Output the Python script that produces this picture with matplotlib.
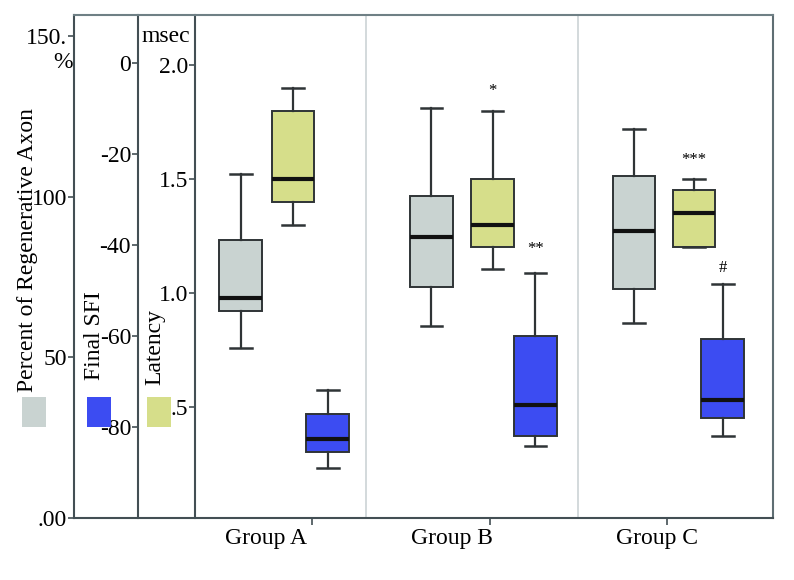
import matplotlib
matplotlib.use('Agg')
import matplotlib.pyplot as plt
from matplotlib.lines import Line2D
from matplotlib.patches import Rectangle

plt.rcParams['font.family'] = ['Liberation Serif', 'DejaVu Serif']

# data
groups = ['Group A', 'Group B', 'Group C']

axon_whislo = [53.0, 59.8, 60.7]
axon_q1 = [64.5, 72.0, 71.3]
axon_med = [68.5, 87.5, 89.4]
axon_q3 = [86.6, 100.3, 106.5]
axon_whishi = [107.0, 127.7, 120.9]

sfi_whislo = [-89.0, -84.2, -82.0]
sfi_q1 = [-85.5, -82.0, -78.0]
sfi_med = [-82.6, -75.2, -74.1]
sfi_q3 = [-77.1, -60.0, -60.7]
sfi_whishi = [-71.9, -46.2, -48.6]

lat_whislo = [1.30, 1.105, 1.20]
lat_q1 = [1.40, 1.20, 1.20]
lat_med = [1.50, 1.30, 1.35]
lat_q3 = [1.80, 1.50, 1.45]
lat_whishi = [1.90, 1.80, 1.50]

axon_ticks = [0, 50, 100, 150]
axon_ticklabels = ['.00', '50', '100', '150.']
sfi_ticks = [0, -20, -40, -60, -80]
sfi_ticklabels = ['0', '-20', '-40', '-60', '-80']
lat_ticks = [0.5, 1.0, 1.5, 2.0]
lat_ticklabels = ['.5', '1.0', '1.5', '2.0']

# layout (x in group units, tick of each group at 1, 2, 3)
group_x = [1, 2, 3]
label_x = [0.741, 1.786, 2.944]
axon_pos = [0.600, 1.673, 2.814]
lat_pos = [0.893, 2.017, 3.152]
sfi_pos = [1.090, 2.259, 3.315]
dividers = [1.304, 2.499]
box_w = 0.242

c_axon = '#c9d3d1'
c_sfi = '#3c4cf2'
c_lat = '#d6de8a'
c_line = '#2f3436'
c_spine = '#434f54'

W, H = 794, 580
fig = plt.figure(figsize=(W / 100, H / 100), dpi=100)


def fx(px):
    return px / W


def fy(py):
    return 1 - py / H


left, right, top, bottom = 195, 773, 15, 518
ax_lat = fig.add_axes([fx(left), fy(bottom), (right - left) / W, (bottom - top) / H])
ax_sfi = ax_lat.twinx()
ax_pct = ax_lat.twinx()


def stats(lo, q1, med, q3, hi):
    return [dict(whislo=a, q1=b, med=c, q3=d, whishi=e, fliers=[])
            for a, b, c, d, e in zip(lo, q1, med, q3, hi)]


def draw(ax, st, pos, color):
    ax.bxp(st, positions=pos, widths=box_w, patch_artist=True, showfliers=False,
           manage_ticks=False,
           boxprops=dict(facecolor=color, edgecolor=c_line, linewidth=1.4),
           medianprops=dict(color='#111111', linewidth=3),
           whiskerprops=dict(color=c_line, linewidth=1.6),
           capprops=dict(color=c_line, linewidth=1.8))


draw(ax_pct, stats(axon_whislo, axon_q1, axon_med, axon_q3, axon_whishi), axon_pos, c_axon)
draw(ax_lat, stats(lat_whislo, lat_q1, lat_med, lat_q3, lat_whishi), lat_pos, c_lat)
draw(ax_sfi, stats(sfi_whislo, sfi_q1, sfi_med, sfi_q3, sfi_whishi), sfi_pos, c_sfi)

xlim = (0.341, 3.597)
for ax in (ax_lat, ax_sfi, ax_pct):
    ax.set_xlim(*xlim)

ax_lat.set_ylim(0.013, 2.219)
ax_sfi.set_ylim(-100.0, 10.5)
ax_pct.set_ylim(0.0, 156.5)

for d in dividers:
    ax_lat.axvline(d, color='#ccd3d6', linewidth=1.2, zorder=0)

# y axes, all on the left
ax_lat.set_yticks(lat_ticks)
ax_lat.set_yticklabels(lat_ticklabels)
for ax, pos, ticks, labels in ((ax_sfi, -57 / 578, sfi_ticks, sfi_ticklabels),
                               (ax_pct, -121 / 578, axon_ticks, axon_ticklabels)):
    ax.yaxis.tick_left()
    ax.spines['left'].set_visible(True)
    ax.spines['left'].set_position(('axes', pos))
    ax.spines['right'].set_visible(False)
    ax.spines['top'].set_visible(False)
    ax.spines['bottom'].set_visible(False)
    ax.set_yticks(ticks)
    ax.set_yticklabels(labels)

for ax in (ax_lat, ax_sfi, ax_pct):
    ax.tick_params(axis='y', length=4, width=1.2, color=c_spine, labelsize=17, pad=1)
    ax.spines['left'].set_color(c_spine)
    ax.spines['left'].set_linewidth(1.5)

ax_lat.spines['top'].set_visible(False)
ax_lat.spines['bottom'].set_visible(False)
ax_lat.spines['right'].set_color('#5f6e73')
ax_lat.spines['right'].set_linewidth(1.5)

# outer frame lines running across all axes
fig.add_artist(Line2D([fx(74), fx(right)], [fy(top), fy(top)], color='#6f8085', linewidth=1.5))
fig.add_artist(Line2D([fx(74), fx(right)], [fy(bottom), fy(bottom)], color=c_spine, linewidth=1.5))

ax_lat.set_xticks(group_x)
ax_lat.set_xticklabels([])
ax_lat.tick_params(axis='x', length=5, width=1.2, color=c_spine)
for x, g in zip(label_x, groups):
    ax_lat.text(x, -0.04, g, transform=ax_lat.get_xaxis_transform(),
                ha='center', va='center', fontsize=17)

# significance marks
ax_lat.text(lat_pos[1], 1.886, '*', ha='center', va='center', fontsize=12)
ax_lat.text(lat_pos[2], 1.583, '***', ha='center', va='center', fontsize=12)
ax_sfi.text(sfi_pos[1], -40.9, '**', ha='center', va='center', fontsize=12)
ax_sfi.text(sfi_pos[2], -45.0, '#', ha='center', va='center', fontsize=12)

# axis titles and units
fig.text(fx(28), fy(392), 'Percent of Regenerative Axon', rotation=90,
         ha='center', va='bottom', fontsize=17)
fig.text(fx(95), fy(380), 'Final SFI', rotation=90, ha='center', va='bottom', fontsize=17)
fig.text(fx(155), fy(385), 'Latency', rotation=90, ha='center', va='bottom', fontsize=17)
fig.text(fx(166), fy(37), 'msec', ha='center', va='center', fontsize=17)
fig.text(fx(63), fy(62), '%', ha='center', va='center', fontsize=17)

# colour keys under the titles
for x0, c in ((22, c_axon), (87, c_sfi), (147, c_lat)):
    fig.add_artist(Rectangle((fx(x0), fy(427)), 24 / W, 30 / H, transform=fig.transFigure,
                             facecolor=c, edgecolor='none'))

fig.savefig('out.png', dpi=100)
